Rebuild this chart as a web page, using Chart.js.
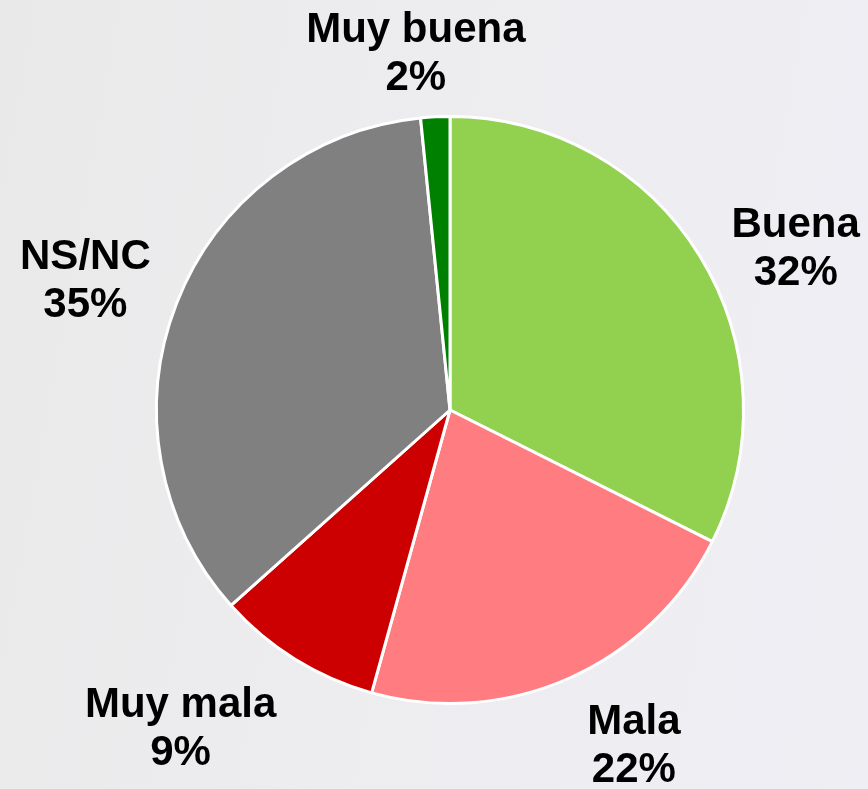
<!DOCTYPE html>
<html>
<head>
<meta charset="utf-8">
<script src="https://cdn.jsdelivr.net/npm/chart.js@4.4.1/dist/chart.umd.min.js"></script>
<style>
  html, body { margin: 0; padding: 0; }
  body {
    width: 868px; height: 789px; overflow: hidden;
    background: linear-gradient(100deg, #e9e9e9 0%, #ededf0 45%, #eeeef4 100%);
  }
  #wrap { position: relative; width: 868px; height: 789px; }
</style>
</head>
<body>
<div id="wrap"><canvas id="myChart" width="868" height="789"></canvas></div>
<script>
let categories = ["Buena", "Mala", "Muy mala", "NS/NC", "Muy buena"];
let values = [32.4, 21.9, 9.1, 35.0, 1.6];
let sliceColors = ["#92D050", "#FF7C80", "#CC0000", "#808080", "#008000"];

// nudges for each outside label (px), relative to a point at 1.3 * radius on the mid angle
let labelNudge = [[21, 40], [29, -12], [-68, -5], [-9, 10], [-15, 25]];

const outsideLabels = {
  id: "outsideLabels",
  afterDatasetsDraw(chart) {
    let ctx = chart.ctx;
    let meta = chart.getDatasetMeta(0);
    ctx.save();
    ctx.font = "bold 42px 'Liberation Sans', Arial, sans-serif";
    ctx.fillStyle = "#000";
    ctx.textAlign = "center";
    ctx.textBaseline = "middle";
    meta.data.forEach((arc, i) => {
      let mid = (arc.startAngle + arc.endAngle) / 2;
      let dist = arc.outerRadius * 1.3;
      let x = arc.x + Math.cos(mid) * dist + labelNudge[i][0];
      let y = arc.y + Math.sin(mid) * dist + labelNudge[i][1];
      ctx.fillText(categories[i], x, y - 24);
      ctx.fillText(Math.round(values[i]) + "%", x, y + 24);
    });
    ctx.restore();
  }
};

let ctx = document.getElementById("myChart").getContext("2d");
let myChart = new Chart(ctx, {
  type: "pie",
  data: {
    labels: categories,
    datasets: [{
      data: values,
      backgroundColor: sliceColors,
      borderColor: "#ffffff",
      borderWidth: 3
    }]
  },
  options: {
    responsive: false,
    animation: false,
    layout: { padding: { top: 115, bottom: 84, left: 155, right: 123 } },
    plugins: {
      legend: { display: false },
      tooltip: { enabled: false }
    }
  },
  plugins: [outsideLabels]
});
</script>
</body>
</html>
